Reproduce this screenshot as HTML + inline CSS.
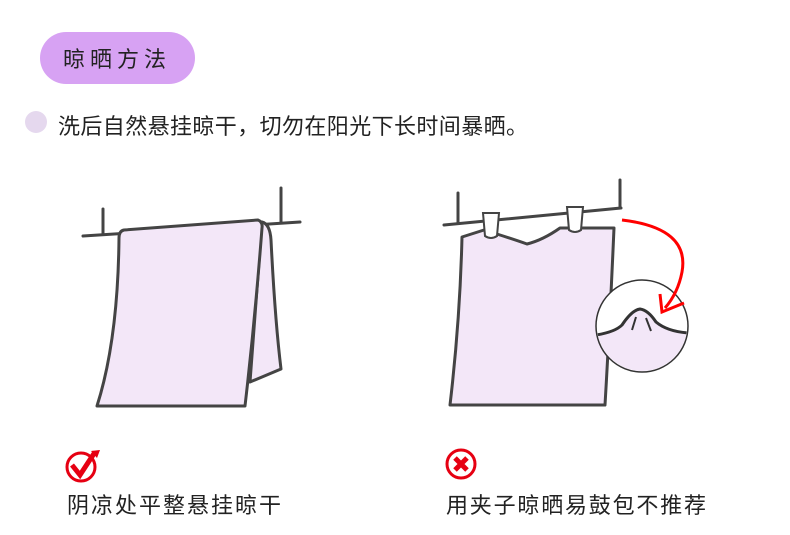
<!DOCTYPE html>
<html><head><meta charset="utf-8"><style>
body{margin:0;background:#fff;}
svg{display:block;font-family:"Liberation Sans","Noto Sans CJK SC",sans-serif;}
</style></head><body>
<svg width="790" height="535" viewBox="0 0 790 535">
<rect x="40" y="32" width="155" height="52" rx="26" fill="#d7a2f3"/>
<text x="117" y="67" font-size="22" text-anchor="middle" fill="#222" letter-spacing="5">晾晒方法</text>
<circle cx="36" cy="122" r="11" fill="#e5d8ee"/>
<text x="58" y="134" font-size="22" fill="#222" letter-spacing="0.4">洗后自然悬挂晾干，切勿在阳光下长时间暴晒。</text>

<g stroke="#444" stroke-width="3" fill="none" stroke-linecap="round" stroke-linejoin="round">
<line x1="83" y1="236" x2="300" y2="222"/>
<line x1="103" y1="209" x2="103" y2="234"/>
<line x1="281" y1="188" x2="281" y2="222"/>
<path d="M262,222 Q270,224 271,240 Q275,320 281,369 L250,382 L262,222Z" fill="#f3e7f8"/>
<path d="M124,230 L258,220 Q263,222 262,228 Q255,320 245,406 L97,406 Q118,340 119,238 Q119,231 124,230Z" fill="#f3e7f8"/>

<line x1="444" y1="225" x2="621" y2="208"/>
<line x1="458" y1="193" x2="458" y2="222"/>
<line x1="620" y1="180" x2="620" y2="208"/>
<path d="M462,237 L484,230 Q510,238 527,244 Q543,240 560,228 L614,228 Q610,320 605,405 L450,405 Q460,320 462,237Z" fill="#f3e7f8"/>
</g>
<g stroke="#444" stroke-width="2" fill="#fff">
<path d="M483,213 L499,213 L497,236 Q491,240 485,236Z"/>
<path d="M567,207 L583,207 L581,230 Q575,234 569,230Z"/>
</g>
<circle cx="642" cy="326" r="46" fill="#fff" stroke="#333" stroke-width="1.5"/>
<clipPath id="c"><circle cx="642" cy="326" r="45"/></clipPath>
<path clip-path="url(#c)" d="M596,335 Q615,332 622,325 Q632,310 640,309 Q648,310 656,322 Q668,332 690,333 L690,380 L596,380Z" fill="#f3e7f8" stroke="#333" stroke-width="3"/>
<g stroke="#333" stroke-width="2"><line x1="636" y1="317" x2="632" y2="330"/><line x1="646" y1="318" x2="651" y2="331"/></g>
<path d="M622,220 Q690,228 682,272 Q678,293 665,308" stroke="#f00" stroke-width="3" fill="none"/>
<path d="M660,294 L662,312 L684,303" stroke="#f00" stroke-width="3" fill="none"/>

<circle cx="81" cy="467" r="14" fill="none" stroke="#e60012" stroke-width="3"/>
<path d="M72,465 L80,475 L95,452" stroke="#e60012" stroke-width="5" fill="none"/>
<path d="M91,451 L100,450 L97,458Z" fill="#e60012"/>
<circle cx="461" cy="464" r="14" fill="none" stroke="#e60012" stroke-width="3"/>
<path d="M455,458 L467,470 M467,458 L455,470" stroke="#e60012" stroke-width="5"/>
<text x="67" y="513" font-size="22" fill="#222" letter-spacing="2">阴凉处平整悬挂晾干</text>
<text x="446" y="513" font-size="22" fill="#222" letter-spacing="1.8">用夹子晾晒易鼓包不推荐</text>
</svg>
</body></html>
